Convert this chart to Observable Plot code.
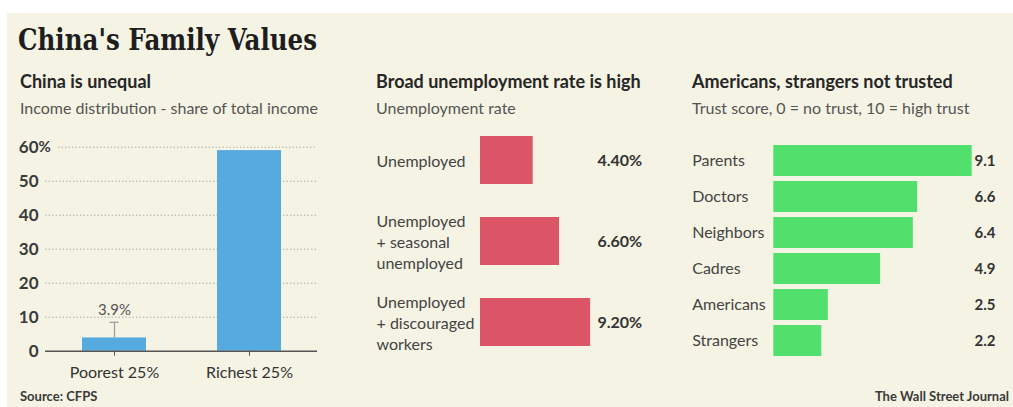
<!DOCTYPE html>
<html><head><meta charset="utf-8">
<script src="https://cdn.jsdelivr.net/npm/d3@7"></script>
<script src="https://cdn.jsdelivr.net/npm/@observablehq/plot@0.6"></script>
<style>
body{margin:0;background:#fff;width:1013px;height:407px;overflow:hidden;position:relative;font-family:Lato,sans-serif;}
#panel{position:absolute;left:7px;top:13px;width:1006px;height:394px;background:#f5f3e3;}
.t{position:absolute;white-space:nowrap;line-height:1;}
.chart{position:absolute;}
#title{font-family:"DejaVu Serif",serif;font-weight:bold;font-size:30px;color:#1e1e1e;transform-origin:0 0;}
.ptitle{font-weight:bold;font-size:18px;color:#262626;}
.psub{font-size:16px;color:#555;}
.foot{font-weight:bold;font-size:13px;color:#3a3a3a;}
</style></head>
<body>
<div id="panel"></div>
<div class="t" id="title" style="left:18px;top:25px">China's Family Values</div>
<div class="t ptitle" style="left:20px;top:72px">China is unequal</div>
<div class="t psub" style="left:20px;top:100px">Income distribution - share of total income</div>
<div class="t ptitle" style="left:376px;top:72px">Broad unemployment rate is high</div>
<div class="t psub" style="left:376px;top:100px">Unemployment rate</div>
<div class="t ptitle" style="left:692px;top:72px">Americans, strangers not trusted</div>
<div class="t psub" style="left:692px;top:100px">Trust score, 0 = no trust, 10 = high trust</div>
<div class="t foot" style="left:20px;top:390px">Source: CFPS</div>
<div class="t foot" id="wsj" style="right:4px;top:390px">The Wall Street Journal</div>
<div class="chart" id="c1" style="left:0px;top:130px"></div>
<div class="chart" id="c2" style="left:340px;top:120px"></div>
<div class="chart" id="c3" style="left:670px;top:130px"></div>
<script>
// ---- data ----
const incomeGroups = ["Poorest 25%", "Richest 25%"];
const incomeShare = [3.9, 59];
const incomeErrorHigh = [8.5, null];
const incomeLabels = ["3.9%", null];
const incomeTicks = [0, 10, 20, 30, 40, 50, 60];

const unempLabels = ["Unemployed", "Unemployed\n+ seasonal\nunemployed", "Unemployed\n+ discouraged\nworkers"];
const unempRates = [4.4, 6.6, 9.2];

const trustGroups = ["Parents", "Doctors", "Neighbors", "Cadres", "Americans", "Strangers"];
const trustScores = [9.1, 6.6, 6.4, 4.9, 2.5, 2.2];

const BLUE = "#55aae0", RED = "#dc5566", GREEN = "#52e06c";
const baseStyle = {background: "transparent", fontFamily: "Lato, sans-serif", overflow: "visible"};

// scale title to match width
const tEl = document.getElementById("title");
const w = tEl.getBoundingClientRect().width;
tEl.style.transform = `scaleX(${299 / w})`;

// ---- chart 1 ----
const income = incomeGroups.map((g, i) => ({group: g, share: incomeShare[i], high: incomeErrorHigh[i], label: incomeLabels[i]}));
const errs = income.filter(d => d.high != null);
const c1 = Plot.plot({
  width: 340, height: 270,
  marginLeft: 45, marginRight: 23, marginTop: 16.7, marginBottom: 49.3,
  x: {domain: incomeGroups, paddingInner: 0.526, paddingOuter: 0.267, axis: null},
  y: {domain: [0, 60], axis: null},
  style: baseStyle,
  marks: [
    Plot.ruleY(incomeTicks.filter(d => d > 0 && d < 60), {stroke: "#b0aea0", strokeDasharray: "1.5,2"}),
    Plot.ruleY([60], {stroke: "#b0aea0", strokeDasharray: "1.5,2", insetLeft: 13}),
    Plot.barY(income, {x: "group", y: "share", fill: BLUE}),
    Plot.ruleX(errs, {x: "group", y1: "share", y2: "high", stroke: "#a0a0a0", strokeWidth: 1.3}),
    Plot.tickY(errs, {x: "group", y: "high", stroke: "#a0a0a0", strokeWidth: 1.3, insetLeft: 27.5, insetRight: 27.5}),
    Plot.text(errs, {x: "group", y: "high", text: "label", dy: -12, fontSize: 15, fill: "#555"}),
    Plot.ruleY([0], {stroke: "#555", strokeWidth: 1.5}),
    Plot.axisX({tickSize: 5, tickPadding: 10, fontSize: 16, fill: "#333", stroke: "#555", label: null}),
    Plot.text(incomeTicks, {y: d => d, text: d => String(d), frameAnchor: "left", textAnchor: "end", dx: -7, fontSize: 17, fontWeight: "bold", fill: "#3a3a3a"}),
    Plot.text([60], {y: d => d, text: () => "%", frameAnchor: "left", textAnchor: "start", dx: -7, fontSize: 15, fontWeight: "bold", fill: "#3a3a3a"})
  ]
});
document.getElementById("c1").appendChild(c1);

// ---- chart 2 ----
const unemp = unempLabels.map((l, i) => ({label: l, rate: unempRates[i]}));
const c2 = Plot.plot({
  width: 330, height: 250,
  marginLeft: 140, marginRight: 70.3, marginTop: 15, marginBottom: 23,
  x: {domain: [0, 10], axis: null},
  y: {domain: unempLabels, paddingInner: 0.41, paddingOuter: 0, axis: null},
  style: baseStyle,
  marks: [
    Plot.barX(unemp, {x: "rate", y: "label", fill: RED}),
    Plot.text(unemp, {y: "label", text: "label", frameAnchor: "left", textAnchor: "start", dx: -104, fontSize: 16, lineHeight: 1.3, fill: "#444"}),
    Plot.text(unemp, {y: "label", text: d => d.rate.toFixed(2) + "%", frameAnchor: "right", textAnchor: "end", dx: 42, fontSize: 16, fontWeight: "bold", fill: "#333"})
  ]
});
document.getElementById("c2").appendChild(c2);

// ---- chart 3 ----
const trust = trustGroups.map((g, i) => ({group: g, score: trustScores[i]}));
const c3 = Plot.plot({
  width: 343, height: 240,
  marginLeft: 103.3, marginRight: 21.7, marginTop: 12.7, marginBottom: 11.7,
  x: {domain: [0, 10], axis: null},
  y: {domain: trustGroups, paddingInner: 0.14, paddingOuter: 0, axis: null},
  style: baseStyle,
  marks: [
    Plot.barX(trust, {x: "score", y: "group", fill: GREEN}),
    Plot.text(trust, {y: "group", text: "group", frameAnchor: "left", textAnchor: "start", dx: -81.6, fontSize: 16, fill: "#444"}),
    Plot.text(trust, {y: "group", text: d => d.score.toFixed(1), frameAnchor: "right", textAnchor: "end", dx: 3.7, fontSize: 15, fontWeight: "bold", fill: "#333"})
  ]
});
document.getElementById("c3").appendChild(c3);
</script>
</body></html>
